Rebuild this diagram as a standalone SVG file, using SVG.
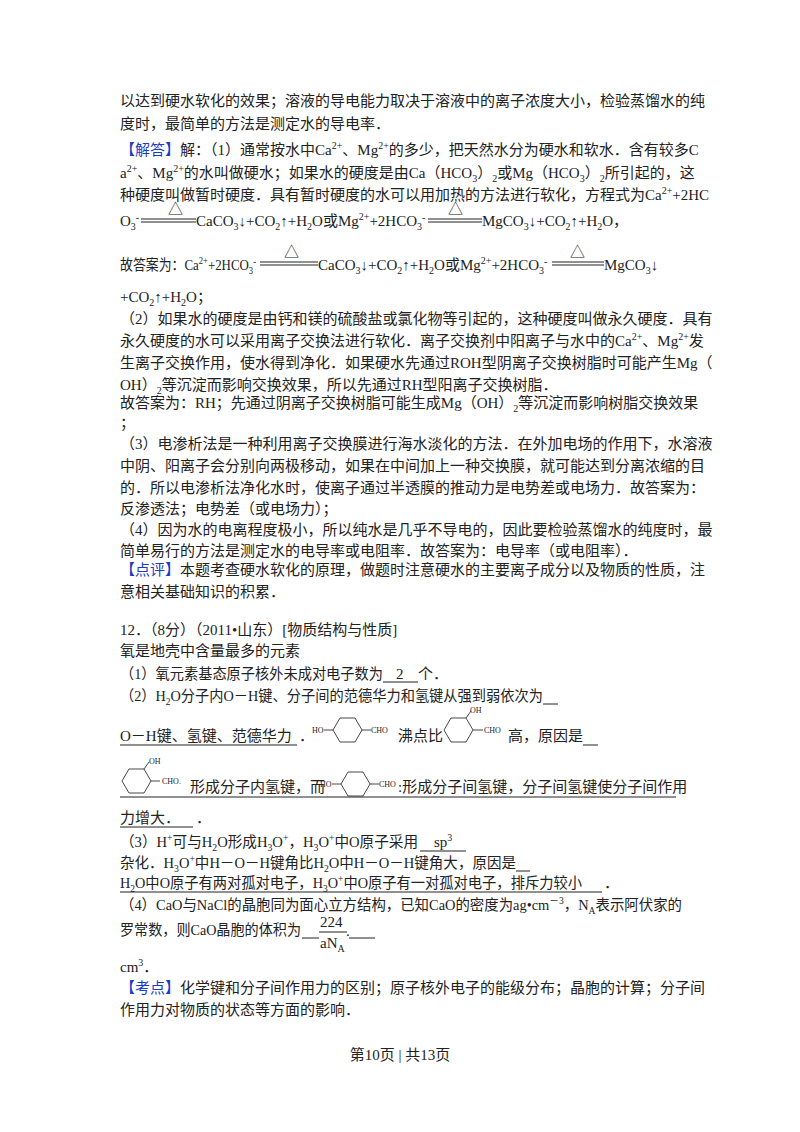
<svg xmlns="http://www.w3.org/2000/svg" width="800" height="1132" viewBox="0 0 800 1132">
<style>
text{font-family:"Liberation Serif","Noto Sans CJK SC",serif;font-size:15px;fill:#222}
.b{fill:#1a3cc8}
.s{font-size:10px}
.sm{font-size:8px;font-family:"Liberation Serif",serif}
.u{stroke:#222;stroke-width:1}
.r{fill:none;stroke:#333;stroke-width:0.9}
</style>
<rect width="800" height="1132" fill="#fff"/>
<g id="text">
<text x="120" y="106">以达到硬水软化的效果；溶液的导电能力取决于溶液中的离子浓度大小，检验蒸馏水的纯</text>
<text x="120" y="129">度时，最简单的方法是测定水的导电率．</text>
<text x="120" y="155"><tspan class="b">【解答】</tspan>解：（1）通常按水中Ca<tspan class="s" dy="-6">2+</tspan><tspan dy="6">、Mg</tspan><tspan class="s" dy="-6">2+</tspan><tspan dy="6">的多少，把天然水分为硬水和软水．含有较多C</tspan></text>
<text x="120" y="178">a<tspan class="s" dy="-6">2+</tspan><tspan dy="6">、Mg</tspan><tspan class="s" dy="-6">2+</tspan><tspan dy="6">的水叫做硬水；如果水的硬度是由Ca（HCO</tspan><tspan class="s" dy="4">3</tspan><tspan dy="-4">）</tspan><tspan class="s" dy="4">2</tspan><tspan dy="-4">或Mg（HCO</tspan><tspan class="s" dy="4">3</tspan><tspan dy="-4">）</tspan><tspan class="s" dy="4">2</tspan><tspan dy="-4">所引起的，这</tspan></text>
<text x="120" y="200">种硬度叫做暂时硬度．具有暂时硬度的水可以用加热的方法进行软化，方程式为Ca<tspan class="s" dy="-6">2+</tspan><tspan dy="6">+2HC</tspan></text>
<text x="120" y="226">O<tspan class="s" dy="4">3</tspan><tspan class="s" dy="-9">-</tspan></text>
<text x="168" y="214">△</text>
<line class="u" x1="141" y1="219" x2="196" y2="219"/><line class="u" x1="141" y1="222" x2="196" y2="222"/>
<text x="196" y="226">CaCO<tspan class="s" dy="4">3</tspan><tspan dy="-4">↓+CO</tspan><tspan class="s" dy="4">2</tspan><tspan dy="-4">↑+H</tspan><tspan class="s" dy="4">2</tspan><tspan dy="-4">O或Mg</tspan><tspan class="s" dy="-6">2+</tspan><tspan dy="6">+2HCO</tspan><tspan class="s" dy="4">3</tspan><tspan class="s" dy="-9">-</tspan></text>
<text x="448" y="214">△</text>
<line class="u" x1="428" y1="219" x2="482" y2="219"/><line class="u" x1="428" y1="222" x2="482" y2="222"/>
<text x="482" y="226">MgCO<tspan class="s" dy="4">3</tspan><tspan dy="-4">↓+CO</tspan><tspan class="s" dy="4">2</tspan><tspan dy="-4">↑+H</tspan><tspan class="s" dy="4">2</tspan><tspan dy="-4">O，</tspan></text>
<text x="120" y="270" textLength="136" lengthAdjust="spacingAndGlyphs">故答案为：Ca<tspan class="s" dy="-6">2+</tspan><tspan dy="6">+2HCO</tspan><tspan class="s" dy="4">3</tspan><tspan class="s" dy="-9">-</tspan></text>
<text x="284" y="257">△</text>
<line class="u" x1="260" y1="262" x2="318" y2="262"/><line class="u" x1="260" y1="265" x2="318" y2="265"/>
<text x="318" y="270">CaCO<tspan class="s" dy="4">3</tspan><tspan dy="-4">↓+CO</tspan><tspan class="s" dy="4">2</tspan><tspan dy="-4">↑+H</tspan><tspan class="s" dy="4">2</tspan><tspan dy="-4">O或Mg</tspan><tspan class="s" dy="-6">2+</tspan><tspan dy="6">+2HCO</tspan><tspan class="s" dy="4">3</tspan><tspan class="s" dy="-9">-</tspan></text>
<text x="570" y="257">△</text>
<line class="u" x1="552" y1="262" x2="604" y2="262"/><line class="u" x1="552" y1="265" x2="604" y2="265"/>
<text x="604" y="270">MgCO<tspan class="s" dy="4">3</tspan><tspan dy="-4">↓</tspan></text>
<text x="120" y="302">+CO<tspan class="s" dy="4">2</tspan><tspan dy="-4">↑+H</tspan><tspan class="s" dy="4">2</tspan><tspan dy="-4">O；</tspan></text>
<text x="120" y="324">（2）如果水的硬度是由钙和镁的硫酸盐或氯化物等引起的，这种硬度叫做永久硬度．具有</text>
<text x="120" y="346">永久硬度的水可以采用离子交换法进行软化．离子交换剂中阳离子与水中的Ca<tspan class="s" dy="-6">2+</tspan><tspan dy="6">、Mg</tspan><tspan class="s" dy="-6">2+</tspan><tspan dy="6">发</tspan></text>
<text x="120" y="368">生离子交换作用，使水得到净化．如果硬水先通过ROH型阴离子交换树脂时可能产生Mg（</text>
<text x="120" y="390">OH）<tspan class="s" dy="4">2</tspan><tspan dy="-4">等沉淀而影响交换效果，所以先通过RH型阳离子交换树脂．</tspan></text>
<text x="120" y="408">故答案为：RH；先通过阴离子交换树脂可能生成Mg（OH）<tspan class="s" dy="4">2</tspan><tspan dy="-4">等沉淀而影响树脂交换效果</tspan></text>
<text x="120" y="428">；</text>
<text x="120" y="449">（3）电渗析法是一种利用离子交换膜进行海水淡化的方法．在外加电场的作用下，水溶液</text>
<text x="120" y="471">中阴、阳离子会分别向两极移动，如果在中间加上一种交换膜，就可能达到分离浓缩的目</text>
<text x="120" y="493">的．所以电渗析法净化水时，使离子通过半透膜的推动力是电势差或电场力．故答案为：</text>
<text x="120" y="514">反渗透法；电势差（或电场力）；</text>
<text x="120" y="535">（4）因为水的电离程度极小，所以纯水是几乎不导电的，因此要检验蒸馏水的纯度时，最</text>
<text x="120" y="556">简单易行的方法是测定水的电导率或电阻率．故答案为：电导率（或电阻率）．</text>
<text x="120" y="575"><tspan class="b">【点评】</tspan>本题考查硬水软化的原理，做题时注意硬水的主要离子成分以及物质的性质，注</text>
<text x="120" y="597">意相关基础知识的积累．</text>
<text x="120" y="635">12．（8分）（2011•山东）[物质结构与性质]</text>
<text x="120" y="656">氧是地壳中含量最多的元素</text>
<text x="120" y="679" textLength="263" lengthAdjust="spacingAndGlyphs">（1）氧元素基态原子核外未成对电子数为</text>
<text x="396" y="679">2</text>
<line class="u" x1="383" y1="682" x2="418" y2="682"/>
<text x="418" y="679">个．</text>
<text x="120" y="701" textLength="423" lengthAdjust="spacingAndGlyphs">（2）H<tspan class="s" dy="4">2</tspan><tspan dy="-4">O分子内O－H键、分子间的范德华力和氢键从强到弱依次为</tspan></text>
<line class="u" x1="543" y1="704" x2="558" y2="704"/>
<text x="120" y="741">O－H键、氢键、范德华力</text>
<line class="u" x1="120" y1="745" x2="297" y2="745"/>
<text x="299" y="741">．</text>
<text x="398" y="741">沸点比</text>
<text x="508" y="741">高，原因是</text>
<line class="u" x1="583" y1="745" x2="598" y2="745"/>
<text x="190" y="792">形成分子内氢键，而</text>
<text x="398" y="792">:形成分子间氢键，分子间氢键使分子间作用</text>
<line class="u" x1="120" y1="797" x2="676" y2="797"/>
<text x="120" y="823">力增大．</text>
<line class="u" x1="120" y1="827" x2="193" y2="827"/>
<text x="196" y="823">．</text>
<text x="120" y="847" textLength="298" lengthAdjust="spacingAndGlyphs">（3）H<tspan class="s" dy="-6">+</tspan><tspan dy="6">可与H</tspan><tspan class="s" dy="4">2</tspan><tspan dy="-4">O形成H</tspan><tspan class="s" dy="4">3</tspan><tspan dy="-4">O</tspan><tspan class="s" dy="-6">+</tspan><tspan dy="6">，H</tspan><tspan class="s" dy="4">3</tspan><tspan dy="-4">O</tspan><tspan class="s" dy="-6">+</tspan><tspan dy="6">中O原子采用</tspan></text>
<text x="434" y="847">sp<tspan class="s" dy="-6">3</tspan></text>
<line class="u" x1="420" y1="851" x2="466" y2="851"/>
<text x="120" y="868" textLength="396" lengthAdjust="spacingAndGlyphs">杂化．H<tspan class="s" dy="4">3</tspan><tspan dy="-4">O</tspan><tspan class="s" dy="-6">+</tspan><tspan dy="6">中H－O－H键角比H</tspan><tspan class="s" dy="4">2</tspan><tspan dy="-4">O中H－O－H键角大，原因是</tspan></text>
<line class="u" x1="516" y1="871" x2="530" y2="871"/>
<text x="120" y="888" textLength="462" lengthAdjust="spacingAndGlyphs">H<tspan class="s" dy="4">2</tspan><tspan dy="-4">O中O原子有两对孤对电子，H</tspan><tspan class="s" dy="4">3</tspan><tspan dy="-4">O</tspan><tspan class="s" dy="-6">+</tspan><tspan dy="6">中O原子有一对孤对电子，排斥力较小</tspan></text>
<line class="u" x1="120" y1="892" x2="602" y2="892"/>
<text x="604" y="888">．</text>
<text x="120" y="910" textLength="562" lengthAdjust="spacingAndGlyphs">（4）CaO与NaCl的晶胞同为面心立方结构，已知CaO的密度为ag•cm<tspan class="s" dy="-6">－3</tspan><tspan dy="6">，N</tspan><tspan class="s" dy="4">A</tspan><tspan dy="-4">表示阿伏家的</tspan></text>
<text x="120" y="935" textLength="181" lengthAdjust="spacingAndGlyphs">罗常数，则CaO晶胞的体积为</text>
<line class="u" x1="302" y1="938" x2="319" y2="938"/>
<text x="320" y="927" font-family="Liberation Mono,monospace">224</text>
<line class="u" x1="319" y1="932" x2="347" y2="932"/>
<text x="320" y="948" font-family="Liberation Mono,monospace">aN<tspan class="s" dy="4">A</tspan></text>
<text x="346" y="936">.</text>
<line class="u" x1="349" y1="938" x2="375" y2="938"/>
<text x="120" y="972">cm<tspan class="s" dy="-6">3</tspan><tspan dy="6">．</tspan></text>
<text x="120" y="993"><tspan class="b">【考点】</tspan>化学键和分子间作用力的区别；原子核外电子的能级分布；晶胞的计算；分子间</text>
<text x="120" y="1015">作用力对物质的状态等方面的影响．</text>
<text x="400" y="1060" text-anchor="middle" font-size="13">第10页 | 共13页</text>
</g>
<g id="mol1">
<text class="sm" x="312" y="733">HO</text>
<line class="r" x1="324" y1="730" x2="333" y2="730"/>
<polygon class="r" points="333,730 340,718 355,718 362,730 355,742 340,742"/>
<line class="r" x1="362" y1="730" x2="371" y2="730"/>
<text class="sm" x="371" y="733">CHO</text>
</g>
<g id="mol2">
<polygon class="r" points="444,730 451,718 466,718 473,730 466,742 451,742"/>
<line class="r" x1="466" y1="718" x2="471" y2="711"/>
<text class="sm" x="470" y="713">OH</text>
<line class="r" x1="473" y1="730" x2="483" y2="730"/>
<text class="sm" x="484" y="733">CHO</text>
</g>
<g id="mol3">
<polygon class="r" points="122,781 129,769 144,769 151,781 144,793 129,793"/>
<line class="r" x1="144" y1="769" x2="149" y2="762"/>
<text class="sm" x="149" y="764">OH</text>
<line class="r" x1="151" y1="781" x2="160" y2="781"/>
<text class="sm" x="162" y="784">CHO.</text>
</g>
<g id="mol4">
<text class="sm" x="320" y="787">HO</text>
<line class="r" x1="332" y1="784" x2="341" y2="784"/>
<polygon class="r" points="341,784 348,772 363,772 370,784 363,796 348,796"/>
<line class="r" x1="370" y1="784" x2="379" y2="784"/>
<text class="sm" x="379" y="787">CHO</text>
</g>
<g id="connectors"/>
</svg>
